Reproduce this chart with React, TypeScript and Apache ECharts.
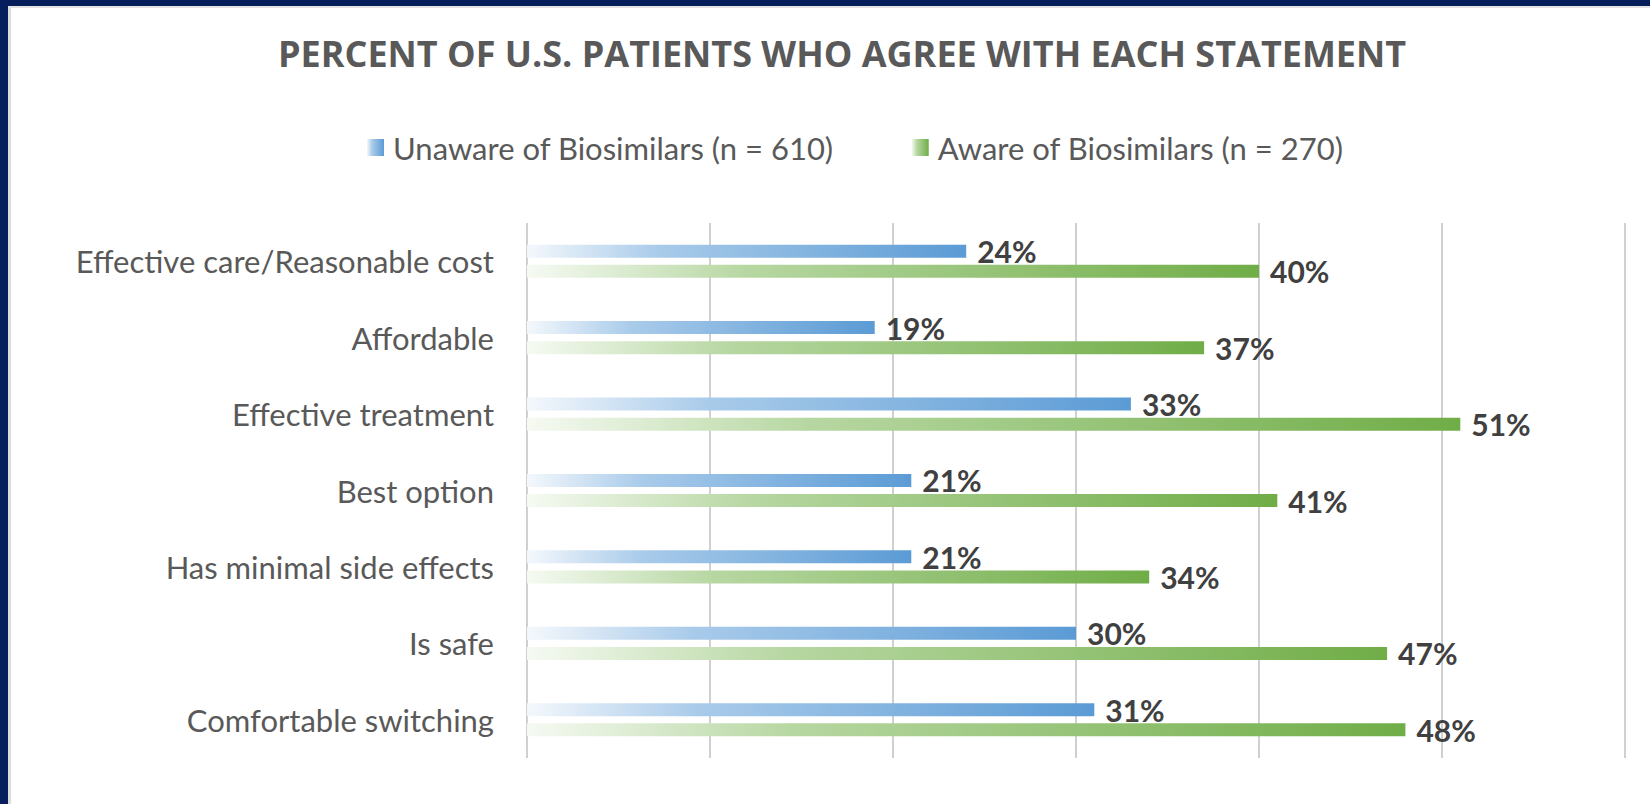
import React, { useEffect, useRef } from "react";
import * as echarts from "echarts";

const titleText = "PERCENT OF U.S. PATIENTS WHO AGREE WITH EACH STATEMENT";
const categories = [
  "Effective care/Reasonable cost",
  "Affordable",
  "Effective treatment",
  "Best option",
  "Has minimal side effects",
  "Is safe",
  "Comfortable switching",
];
const seriesNames = ["Unaware of Biosimilars (n = 610)", "Aware of Biosimilars (n = 270)"];
const unawareValues = [24, 19, 33, 21, 21, 30, 31];
const awareValues = [40, 37, 51, 41, 34, 47, 48];
const axisMin = 0;
const axisMax = 60;
const axisInterval = 10;

const FONT = "Lato, 'Open Sans', sans-serif";
const TITLE_FONT = "'Open Sans', Lato, sans-serif";

const grad = (stops: string[]) =>
  new echarts.graphic.LinearGradient(0, 0, 1, 0, [
    { offset: 0, color: stops[0] },
    { offset: 0.3, color: stops[1] },
    { offset: 1, color: stops[2] },
  ]);

export default function App() {
  const ref = useRef<HTMLDivElement>(null);
  useEffect(() => {
    if (!ref.current) return;
    const chart = echarts.init(ref.current, undefined, { renderer: "svg" });
    const blue = grad(["#f4f8fc", "#a9cbea", "#5b9bd5"]);
    const green = grad(["#f6faf3", "#b7d7a2", "#70ad47"]);
    const label = {
      show: true,
      position: "right",
      distance: 11,
      formatter: "{c}%",
      color: "#404040",
      fontFamily: FONT,
      fontWeight: "bold",
      fontSize: 30,
    };
    chart.setOption({
      animation: false,
      backgroundColor: "#ffffff",
      graphic: [
        { type: "rect", shape: { x: 0, y: 0, width: 1650, height: 6 }, style: { fill: "#061f5c" }, z: 100 },
        { type: "rect", shape: { x: 0, y: 0, width: 8, height: 804 }, style: { fill: "#061f5c" }, z: 100 },
        { type: "rect", shape: { x: 8, y: 6, width: 3, height: 798 }, style: { fill: "#dcdcdc" }, z: 100 },
        { type: "rect", shape: { x: 8, y: 6, width: 1642, height: 2 }, style: { fill: "#e4e4e4" }, z: 100 },
        {
          type: "text",
          x: 842,
          y: 53,
          style: {
            text: titleText,
            fill: "#595959",
            font: `bold 36px ${TITLE_FONT}`,
            textAlign: "center",
            textVerticalAlign: "middle",
          },
        },
      ],
      legend: {
        data: seriesNames,
        left: 362,
        top: 127,
        itemWidth: 17,
        itemHeight: 17,
        itemGap: 78,
        icon: "rect",
        textStyle: {
          color: "#595959",
          fontFamily: FONT,
          fontSize: 31,
          padding: [0, 0, 0, 4],
        },
      },
      grid: { left: 527, right: 25, top: 223, bottom: 46, containLabel: false },
      xAxis: {
        type: "value",
        min: axisMin,
        max: axisMax,
        interval: axisInterval,
        axisLabel: { show: false },
        axisLine: { show: false },
        axisTick: { show: false },
        splitLine: { show: true, lineStyle: { color: "#d0d0d0", width: 2 } },
      },
      yAxis: {
        type: "category",
        data: categories,
        inverse: true,
        axisLine: { show: false },
        axisTick: { show: false },
        axisLabel: {
          color: "#595959",
          fontFamily: FONT,
          fontSize: 31,
          margin: 33,
        },
      },
      series: [
        {
          name: seriesNames[0],
          type: "bar",
          data: unawareValues,
          barWidth: 13,
          barGap: "55%",
          itemStyle: { color: blue },
          label,
        },
        {
          name: seriesNames[1],
          type: "bar",
          data: awareValues,
          barWidth: 13,
          barGap: "55%",
          itemStyle: { color: green },
          label,
        },
      ],
    });
    return () => chart.dispose();
  }, []);
  return (
    <div
      ref={ref}
      style={{ position: "fixed", left: 0, top: 0, width: 1650, height: 804, background: "#fff" }}
    />
  );
}
